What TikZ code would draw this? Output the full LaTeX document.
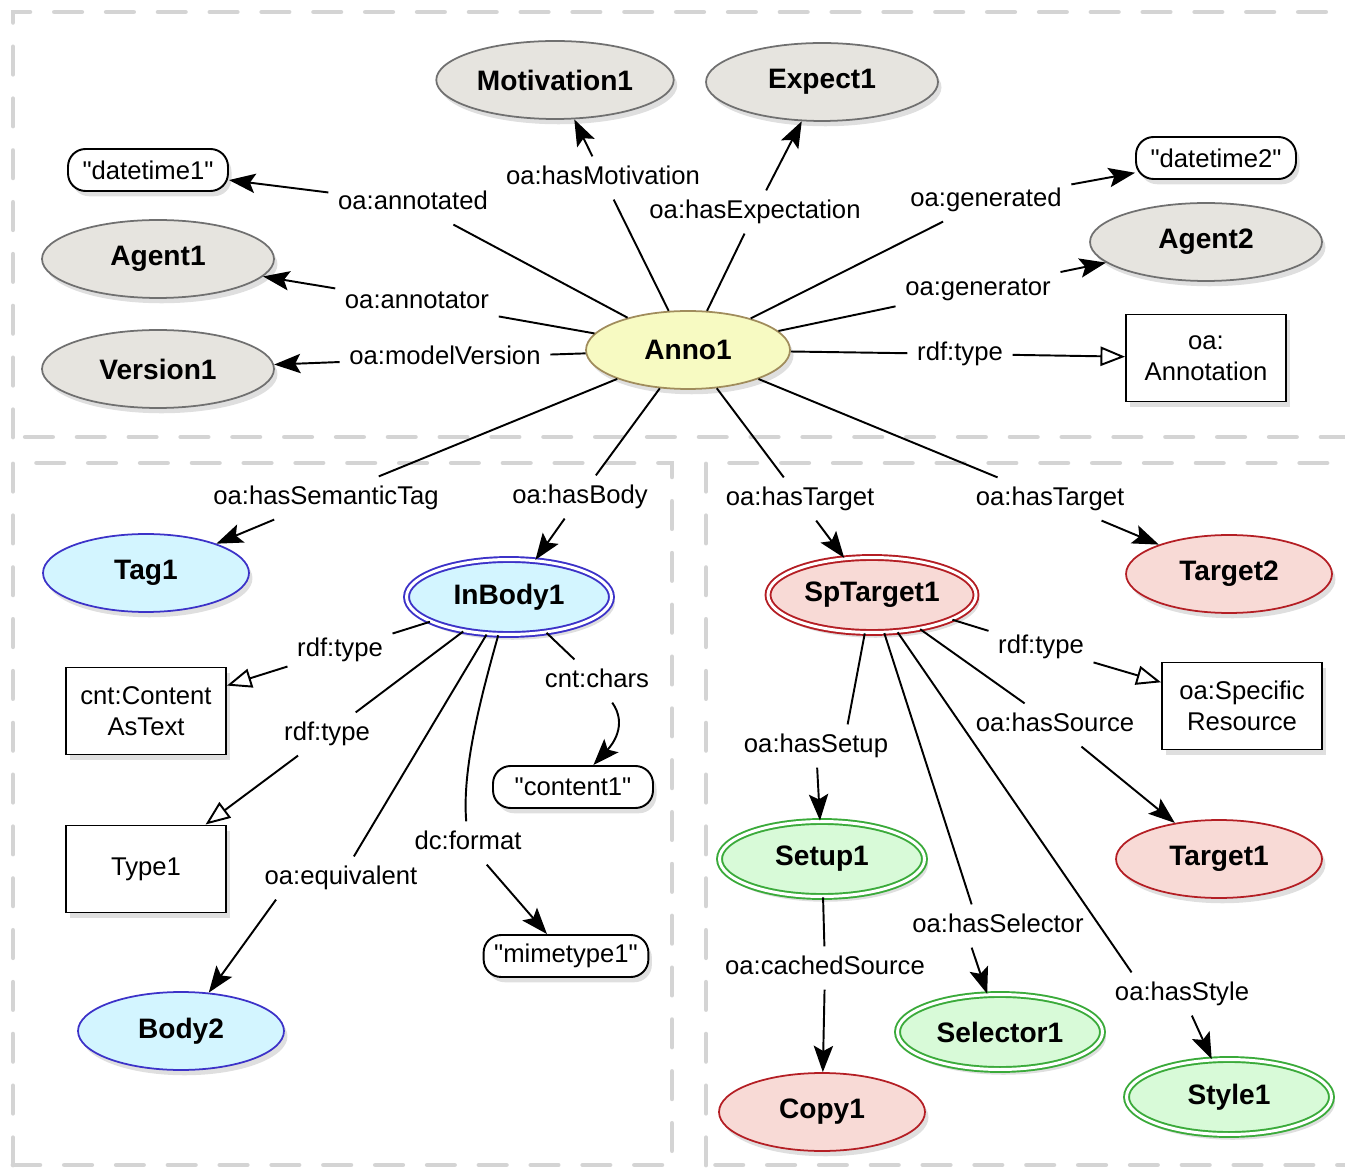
\documentclass[tikz,border=0pt]{standalone}
\usepackage{fontspec}
\setmainfont{Liberation Sans}[Ligatures=TeXOff]
\usetikzlibrary{arrows.meta, shapes.geometric, shadows}

\definecolor{zonegray}{HTML}{D4D4D4}
\definecolor{agentfill}{HTML}{E6E4DF}
\definecolor{agentline}{HTML}{707070}
\definecolor{annofill}{HTML}{F7FAC2}
\definecolor{annoline}{HTML}{A08C5C}
\definecolor{bodyfill}{HTML}{D3F5FF}
\definecolor{bodyline}{HTML}{3C32C8}
\definecolor{targetfill}{HTML}{F8DAD6}
\definecolor{targetline}{HTML}{B41E24}
\definecolor{specfill}{HTML}{D8FAD8}
\definecolor{specline}{HTML}{3AAA3A}

\begin{document}
\begin{tikzpicture}[
            x = 0.02cm, y = -0.02cm, % pixel grid, y going down
            > = {Stealth[length=15pt, width=11pt, inset=3pt]}, % arrow head style
            line width = 1.1pt % line style
        ]

        \tikzstyle{zone}=[
            draw = zonegray,
            line width = 2.8pt,
            line cap = round,
            dash pattern = on 15.5pt off 14pt
        ]
        \tikzstyle{shade}=[
            drop shadow = {shadow xshift=2pt, shadow yshift=-3pt, opacity=0.25}
        ]
        \tikzstyle{res}=[
            ellipse, shade,
            line width = 1pt,
            minimum width = 4.12cm,
            minimum height = 1.56cm,
            font = \fontsize{16}{18}\selectfont\bfseries
        ]
        \tikzstyle{doubled}=[
            double = white,
            double distance = 1.7pt,
            line width = 1.1pt,
            minimum width = 4.1cm,
            minimum height = 1.5cm
        ]
        \tikzstyle{agent}=[res, draw = agentline, fill = agentfill, minimum width = 4.64cm]
        \tikzstyle{anno}=[res, draw = annoline, fill = annofill, minimum width = 4.08cm]
        \tikzstyle{body}=[res, draw = bodyline, fill = bodyfill]
        \tikzstyle{target}=[res, draw = targetline, fill = targetfill]
        \tikzstyle{spec}=[res, draw = specline, fill = specfill, doubled]
        \tikzstyle{literal}=[
            rectangle, shade,
            draw, fill = white,
            rounded corners = 10pt,
            minimum width = 3.2cm,
            minimum height = 0.84cm,
            inner xsep = 6pt,
            font = \fontsize{14.6}{17}\selectfont
        ]
        \tikzstyle{class}=[
            rectangle, shade,
            draw, fill = white,
            minimum width = 3.2cm,
            minimum height = 1.74cm,
            align = center,
            font = \fontsize{14.6}{17.6}\selectfont
        ]
        \tikzstyle{lbl}=[
            fill = white,
            inner sep = 5pt,
            text height = 10.5pt,
            text depth = 3pt,
            font = \fontsize{14.6}{17}\selectfont
        ]
        \tikzstyle{typeof}=[-{Triangle[open, length=14pt, width=11pt]}]

        \useasboundingbox (0,0) rectangle (1345,1168);
        \clip (0,0) rectangle (1345,1168);

        % dashed zones
        \draw[zone] (13,437) -- (13,12) -- (1370,12) -- (1370,437) -- cycle;
        \draw[zone] (13,1165) -- (13,463) -- (672,463) -- (672,1165) -- cycle;
        \draw[zone] (706,1165) -- (706,463) -- (1370,463) -- (1370,1165) -- cycle;

        % annotation and its neighbours
        \node[anno] (anno) at (688,350) {Anno1};
        \node[agent] (motivation) at (555,80) {Motivation1};
        \node[agent] (expect) at (822,82) {Expect1};
        \node[agent] (agent1) at (158,259) {Agent1};
        \node[agent] (version) at (158,369) {Version1};
        \node[agent] (agent2) at (1206,242) {Agent2};
        \node[literal] (datetime1) at (148,170) {"datetime1"};
        \node[literal] (datetime2) at (1216,158) {"datetime2"};
        \node[class] (annoclass) at (1206,358) {oa:\\Annotation};

        % body side
        \node[body] (tag) at (146,573) {Tag1};
        \node[body, doubled] (inbody) at (509,597) {InBody1};
        \node[body] (body2) at (181,1031) {Body2};
        \node[class] (cntclass) at (146,711) {cnt:Content\\AsText};
        \node[class] (type1) at (146,869) {Type1};
        \node[literal] (content) at (573,787) {"content1"};
        \node[literal] (mimetype) at (566,956) {"mimetype1"};

        % target side
        \node[target, doubled] (sptarget) at (872,595) {SpTarget1};
        \node[target] (target2) at (1229,574) {Target2};
        \node[target] (target1) at (1219,859) {Target1};
        \node[target] (copy) at (822,1112) {Copy1};
        \node[class] (specres) at (1242,706) {oa:Specific\\Resource};
        \node[spec] (setup) at (822,859) {Setup1};
        \node[spec] (selector) at (1000,1032) {Selector1};
        \node[spec] (style) at (1229,1097) {Style1};

        % property labels
        \node[lbl] (annotated) at (413,203) {oa:annotated};
        \node[lbl] (hasmotiv) at (603,178) {oa:hasMotivation};
        \node[lbl] (hasexpect) at (755,212) {oa:hasExpectation};
        \node[lbl] (generated) at (986,200) {oa:generated};
        \node[lbl] (annotator) at (417,302) {oa:annotator};
        \node[lbl] (generator) at (978,289) {oa:generator};
        \node[lbl] (modelver) at (445,358) {oa:modelVersion};
        \node[lbl] (annotype) at (960,354) {rdf:type};
        \node[lbl] (semtag) at (326,498) {oa:hasSemanticTag};
        \node[lbl] (hasbody) at (580,497) {oa:hasBody};
        \node[lbl] (bodytype1) at (340,650) {rdf:type};
        \node[lbl] (chars) at (597,681) {cnt:chars};
        \node[lbl] (bodytype2) at (327,734) {rdf:type};
        \node[lbl] (format) at (468,843) {dc:format};
        \node[lbl] (equiv) at (341,878) {oa:equivalent};
        \node[lbl] (hastarget1) at (800,499) {oa:hasTarget};
        \node[lbl] (hastarget2) at (1050,499) {oa:hasTarget};
        \node[lbl] (sptype) at (1041,647) {rdf:type};
        \node[lbl] (hassource) at (1055,725) {oa:hasSource};
        \node[lbl] (hassetup) at (816,746) {oa:hasSetup};
        \node[lbl] (hasselector) at (998,926) {oa:hasSelector};
        \node[lbl] (cached) at (825,968) {oa:cachedSource};
        \node[lbl] (hasstyle) at (1182,994) {oa:hasStyle};

        % from Anno1
        \path (anno) edge (annotated) edge (hasmotiv) edge (hasexpect)
                     edge (generated) edge (annotator) edge (generator)
                     edge (modelver) edge (annotype) edge (semtag)
                     edge (hasbody) edge (hastarget1) edge (hastarget2);
        \path[->] (annotated) edge (datetime1);
        \path[->] (hasmotiv) edge (motivation);
        \path[->] (hasexpect) edge (expect);
        \path[->] (generated) edge (datetime2);
        \path[->] (annotator) edge (agent1);
        \path[->] (generator) edge (agent2);
        \path[->] (modelver) edge (version);
        \path[typeof] (annotype) edge (annoclass);
        \path[->] (semtag) edge (tag);
        \path[->] (hasbody) edge (inbody);
        \path[->] (hastarget1) edge (sptarget);
        \path[->] (hastarget2) edge (target2);

        % from InBody1
        \path (inbody) edge (bodytype1) edge (chars) edge (bodytype2) edge (equiv);
        \path[typeof] (bodytype1) edge (cntclass);
        \path[typeof] (bodytype2) edge (type1);
        \draw[->] (chars) .. controls (628,725) and (612,745) .. (content);
        \draw (inbody) .. controls (480,700) and (462,770) .. (format);
        \path[->] (format) edge (mimetype);
        \path[->] ([xshift=12pt]equiv.south west) edge (body2);

        % from SpTarget1
        \path (sptarget) edge (sptype) edge (hassource)
                         edge ([xshift=18pt]hassetup.north)
                         edge ([xshift=-15pt]hasselector.north)
                         edge ([xshift=15pt]hasstyle.north west);
        \path[typeof] (sptype) edge (specres);
        \path[->] (hassource) edge (target1);
        \path[->] (hassetup) edge (setup);
        \path[->] ([xshift=-15pt]hasselector.south) edge (selector);
        \path[->] (hasstyle) edge (style);

        % from Setup1
        \path (setup) edge (cached);
        \path[->] (cached) edge (copy);

  \end{tikzpicture}
\end{document}
